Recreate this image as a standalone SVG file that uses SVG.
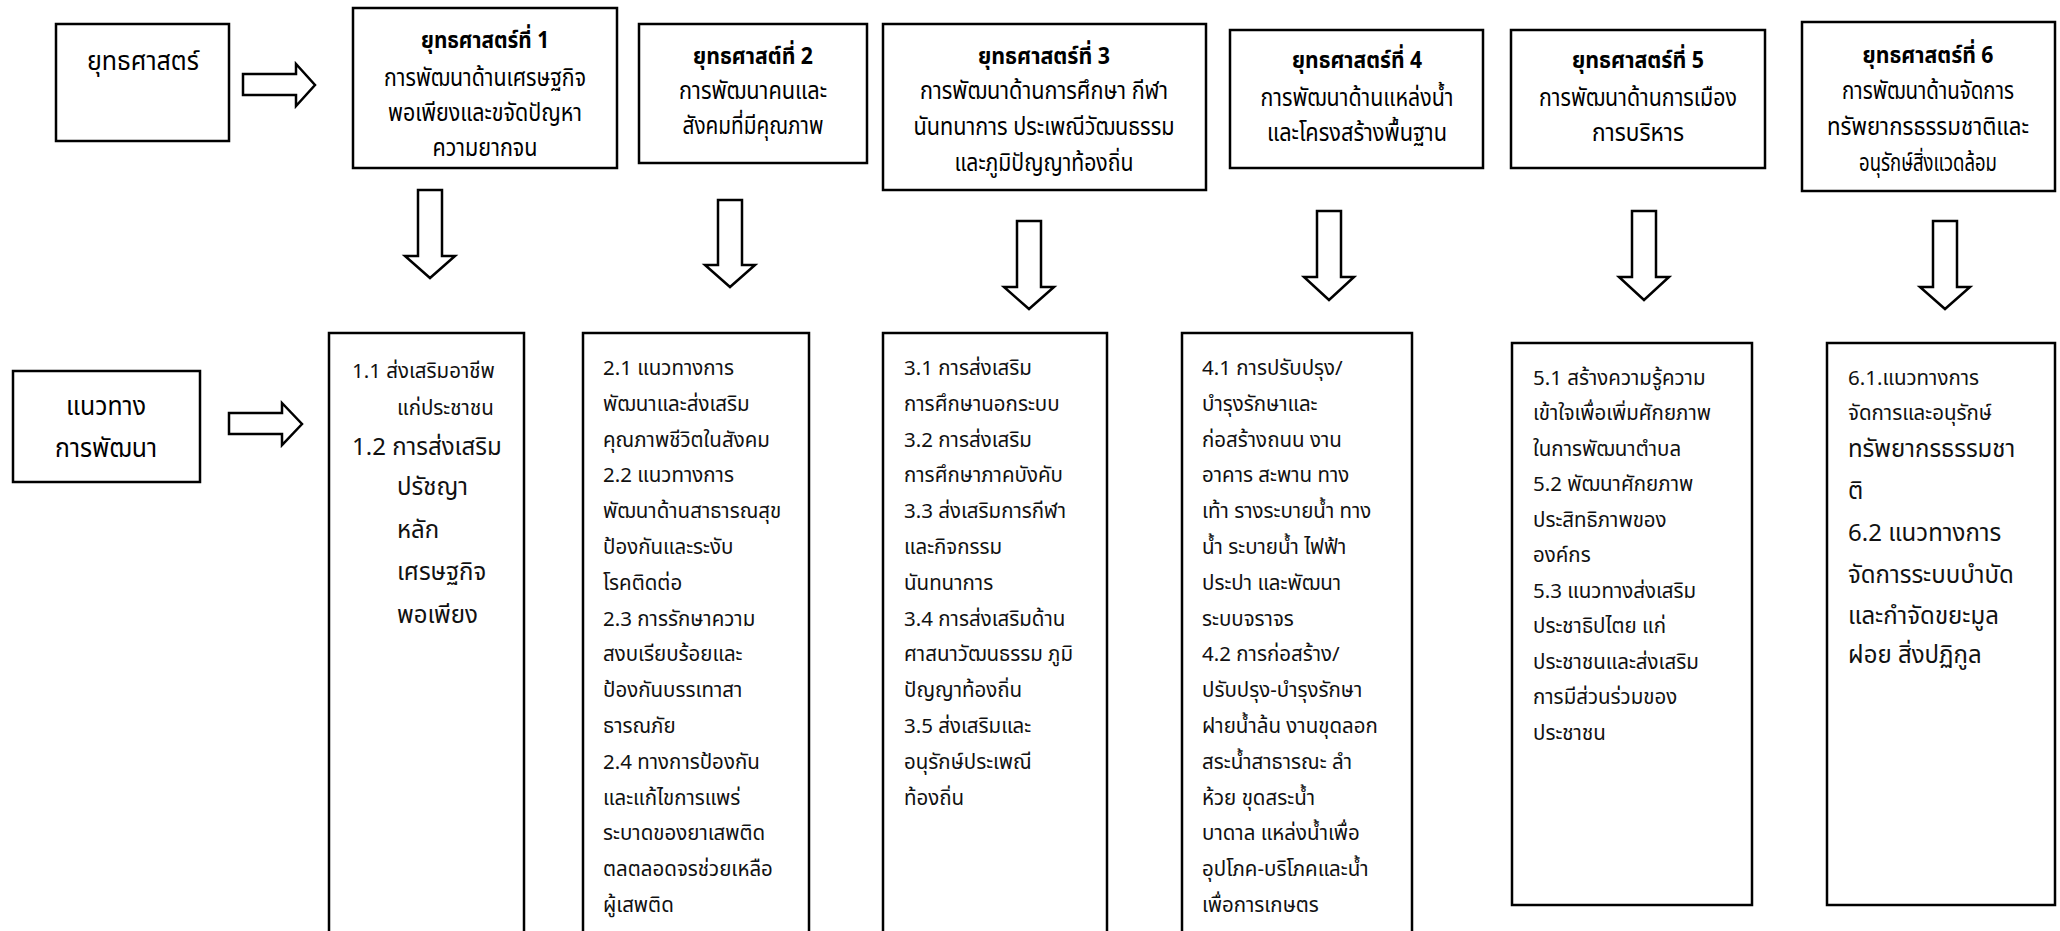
<svg xmlns="http://www.w3.org/2000/svg" width="2060" height="931" viewBox="0 0 2060 931">
<style>
  .box{fill:#fff;stroke:#000;stroke-width:2.5}
  .arr{fill:#fff;stroke:#000;stroke-width:2.5;stroke-linejoin:miter}
  .t{font-family:"Noto Sans Thai","Noto Sans",sans-serif;fill:#000;text-anchor:middle;font-size:24px}
  .tb{font-weight:bold;font-size:23px}
  .b{font-family:"Noto Sans Thai","Noto Sans",sans-serif;fill:#111;font-size:20.5px}
  .bl{font-size:24px}
</style>
<rect width="2060" height="931" fill="#fff"/>

<g id="connectors">
  <path class="arr" d="M243,74 H296 V64 L315,85 L296,106 V95 H243 Z"/>
  <path class="arr" d="M229,413 H282 V403 L302,424 L282,445 V434 H229 Z"/>
  <path class="arr" d="M418,190 H442 V256 H455 L430,278 L405,256 H418 Z"/>
  <path class="arr" d="M718,200 H742 V265 H755 L730,287 L705,265 H718 Z"/>
  <path class="arr" d="M1017,221 H1041 V287 H1054 L1029,309 L1004,287 H1017 Z"/>
  <path class="arr" d="M1317,211 H1341 V277 H1354 L1329,300 L1304,277 H1317 Z"/>
  <path class="arr" d="M1632,211 H1656 V277 H1669 L1644,300 L1619,277 H1632 Z"/>
  <path class="arr" d="M1933,221 H1957 V287 H1970 L1945,309 L1920,287 H1933 Z"/>
</g>

<g id="strategy-label">
  <rect class="box" x="56" y="24" width="173" height="117"/>
  <text class="t" x="143" y="70" style="font-size:27px" textLength="112" lengthAdjust="spacingAndGlyphs">ยุทธศาสตร์</text>
</g>

<g id="strategy-1">
  <rect class="box" x="353" y="8" width="264" height="160"/>
  <text class="t tb" x="485" y="48" textLength="128" lengthAdjust="spacingAndGlyphs">ยุทธศาสตร์ที่ 1</text>
  <text class="t" x="485" y="86" textLength="202" lengthAdjust="spacingAndGlyphs">การพัฒนาด้านเศรษฐกิจ</text>
  <text class="t" x="485" y="121" textLength="194" lengthAdjust="spacingAndGlyphs">พอเพียงและขจัดปัญหา</text>
  <text class="t" x="485" y="156" textLength="105" lengthAdjust="spacingAndGlyphs">ความยากจน</text>
</g>

<g id="strategy-2">
  <rect class="box" x="639" y="24" width="228" height="139"/>
  <text class="t tb" x="753" y="64" textLength="120" lengthAdjust="spacingAndGlyphs">ยุทธศาสต์ที่ 2</text>
  <text class="t" x="753" y="99" textLength="148" lengthAdjust="spacingAndGlyphs">การพัฒนาคนและ</text>
  <text class="t" x="753" y="134" textLength="141" lengthAdjust="spacingAndGlyphs">สังคมที่มีคุณภาพ</text>
</g>

<g id="strategy-3">
  <rect class="box" x="883" y="24" width="323" height="166"/>
  <text class="t tb" x="1044" y="64" textLength="132" lengthAdjust="spacingAndGlyphs">ยุทธศาสตร์ที่ 3</text>
  <text class="t" x="1044" y="99" textLength="248" lengthAdjust="spacingAndGlyphs">การพัฒนาด้านการศึกษา กีฬา</text>
  <text class="t" x="1044" y="135" textLength="261" lengthAdjust="spacingAndGlyphs">นันทนาการ ประเพณีวัฒนธรรม</text>
  <text class="t" x="1044" y="171" textLength="179" lengthAdjust="spacingAndGlyphs">และภูมิปัญญาท้องถิ่น</text>
</g>

<g id="strategy-4">
  <rect class="box" x="1230" y="30" width="253" height="138"/>
  <text class="t tb" x="1357" y="68" textLength="130" lengthAdjust="spacingAndGlyphs">ยุทธศาสตร์ที่ 4</text>
  <text class="t" x="1357" y="106" textLength="193" lengthAdjust="spacingAndGlyphs">การพัฒนาด้านแหล่งน้ำ</text>
  <text class="t" x="1357" y="141" textLength="180" lengthAdjust="spacingAndGlyphs">และโครงสร้างพื้นฐาน</text>
</g>

<g id="strategy-5">
  <rect class="box" x="1511" y="30" width="254" height="138"/>
  <text class="t tb" x="1638" y="68" textLength="132" lengthAdjust="spacingAndGlyphs">ยุทธศาสตร์ที่ 5</text>
  <text class="t" x="1638" y="106" textLength="198" lengthAdjust="spacingAndGlyphs">การพัฒนาด้านการเมือง</text>
  <text class="t" x="1638" y="141" textLength="92" lengthAdjust="spacingAndGlyphs">การบริหาร</text>
</g>

<g id="strategy-6">
  <rect class="box" x="1802" y="22" width="253" height="169"/>
  <text class="t tb" x="1928" y="63" textLength="131" lengthAdjust="spacingAndGlyphs">ยุทธศาสตร์ที่ 6</text>
  <text class="t" x="1928" y="99" textLength="172" lengthAdjust="spacingAndGlyphs">การพัฒนาด้านจัดการ</text>
  <text class="t" x="1928" y="135" textLength="202" lengthAdjust="spacingAndGlyphs">ทรัพยากรธรรมชาติและ</text>
  <text class="t" x="1928" y="171" textLength="138" lengthAdjust="spacingAndGlyphs">อนุรักษ์สิ่งแวดล้อม</text>
</g>

<g id="guideline-label">
  <rect class="box" x="13" y="371" width="187" height="111"/>
  <text class="t" x="106" y="415" style="font-size:27px" textLength="80" lengthAdjust="spacingAndGlyphs">แนวทาง</text>
  <text class="t" x="106" y="457" style="font-size:27px" textLength="102" lengthAdjust="spacingAndGlyphs">การพัฒนา</text>
</g>

<g id="guideline-1">
  <rect class="box" x="329" y="333" width="195" height="620"/>
  <text class="b" x="352" y="378">1.1 ส่งเสริมอาชีพ</text>
  <text class="b" x="397" y="415">แก่ประชาชน</text>
  <text class="b bl" x="352" y="455">1.2 การส่งเสริม</text>
  <text class="b bl" x="397" y="495">ปรัชญา</text>
  <text class="b bl" x="397" y="538">หลัก</text>
  <text class="b bl" x="397" y="580">เศรษฐกิจ</text>
  <text class="b bl" x="397" y="623">พอเพียง</text>
</g>

<g id="guideline-2">
  <rect class="box" x="583" y="333" width="226" height="620"/>
  <text class="b" x="603" y="375">2.1 แนวทางการ</text>
  <text class="b" x="603" y="411">พัฒนาและส่งเสริม</text>
  <text class="b" x="603" y="447">คุณภาพชีวิตในสังคม</text>
  <text class="b" x="603" y="482">2.2 แนวทางการ</text>
  <text class="b" x="603" y="518">พัฒนาด้านสาธารณสุข</text>
  <text class="b" x="603" y="554">ป้องกันและระงับ</text>
  <text class="b" x="603" y="590">โรคติดต่อ</text>
  <text class="b" x="603" y="626">2.3 การรักษาความ</text>
  <text class="b" x="603" y="661">สงบเรียบร้อยและ</text>
  <text class="b" x="603" y="697">ป้องกันบรรเทาสา</text>
  <text class="b" x="603" y="733">ธารณภัย</text>
  <text class="b" x="603" y="769">2.4 ทางการป้องกัน</text>
  <text class="b" x="603" y="805">และแก้ไขการแพร่</text>
  <text class="b" x="603" y="840">ระบาดของยาเสพติด</text>
  <text class="b" x="603" y="876">ตลตลอดจรช่วยเหลือ</text>
  <text class="b" x="603" y="912">ผู้เสพติด</text>
</g>

<g id="guideline-3">
  <rect class="box" x="883" y="333" width="224" height="620"/>
  <text class="b" x="904" y="375">3.1 การส่งเสริม</text>
  <text class="b" x="904" y="411">การศึกษานอกระบบ</text>
  <text class="b" x="904" y="447">3.2 การส่งเสริม</text>
  <text class="b" x="904" y="482">การศึกษาภาคบังคับ</text>
  <text class="b" x="904" y="518">3.3 ส่งเสริมการกีฬา</text>
  <text class="b" x="904" y="554">และกิจกรรม</text>
  <text class="b" x="904" y="590">นันทนาการ</text>
  <text class="b" x="904" y="626">3.4 การส่งเสริมด้าน</text>
  <text class="b" x="904" y="661">ศาสนาวัฒนธรรม ภูมิ</text>
  <text class="b" x="904" y="697">ปัญญาท้องถิ่น</text>
  <text class="b" x="904" y="733">3.5 ส่งเสริมและ</text>
  <text class="b" x="904" y="769">อนุรักษ์ประเพณี</text>
  <text class="b" x="904" y="805">ท้องถิ่น</text>
</g>

<g id="guideline-4">
  <rect class="box" x="1182" y="333" width="230" height="620"/>
  <text class="b" x="1202" y="375">4.1 การปรับปรุง/</text>
  <text class="b" x="1202" y="411">บำรุงรักษาและ</text>
  <text class="b" x="1202" y="447">ก่อสร้างถนน งาน</text>
  <text class="b" x="1202" y="482">อาคาร สะพาน ทาง</text>
  <text class="b" x="1202" y="518">เท้า รางระบายน้ำ ทาง</text>
  <text class="b" x="1202" y="554">น้ำ ระบายน้ำ ไฟฟ้า</text>
  <text class="b" x="1202" y="590">ประปา และพัฒนา</text>
  <text class="b" x="1202" y="626">ระบบจราจร</text>
  <text class="b" x="1202" y="661">4.2 การก่อสร้าง/</text>
  <text class="b" x="1202" y="697">ปรับปรุง-บำรุงรักษา</text>
  <text class="b" x="1202" y="733">ฝายน้ำล้น งานขุดลอก</text>
  <text class="b" x="1202" y="769">สระน้ำสาธารณะ ลำ</text>
  <text class="b" x="1202" y="805">ห้วย ขุดสระน้ำ</text>
  <text class="b" x="1202" y="840">บาดาล แหล่งน้ำเพื่อ</text>
  <text class="b" x="1202" y="876">อุปโภค-บริโภคและน้ำ</text>
  <text class="b" x="1202" y="912">เพื่อการเกษตร</text>
</g>

<g id="guideline-5">
  <rect class="box" x="1512" y="343" width="240" height="562"/>
  <text class="b" x="1533" y="385">5.1 สร้างความรู้ความ</text>
  <text class="b" x="1533" y="420">เข้าใจเพื่อเพิ่มศักยภาพ</text>
  <text class="b" x="1533" y="456">ในการพัฒนาตำบล</text>
  <text class="b" x="1533" y="491">5.2 พัฒนาศักยภาพ</text>
  <text class="b" x="1533" y="527">ประสิทธิภาพของ</text>
  <text class="b" x="1533" y="562">องค์กร</text>
  <text class="b" x="1533" y="598">5.3 แนวทางส่งเสริม</text>
  <text class="b" x="1533" y="633">ประชาธิปไตย แก่</text>
  <text class="b" x="1533" y="669">ประชาชนและส่งเสริม</text>
  <text class="b" x="1533" y="704">การมีส่วนร่วมของ</text>
  <text class="b" x="1533" y="740">ประชาชน</text>
</g>

<g id="guideline-6">
  <rect class="box" x="1827" y="343" width="228" height="562"/>
  <text class="b" x="1848" y="385">6.1.แนวทางการ</text>
  <text class="b" x="1848" y="420">จัดการและอนุรักษ์</text>
  <text class="b bl" x="1848" y="457">ทรัพยากรธรรมชา</text>
  <text class="b bl" x="1848" y="499">ติ</text>
  <text class="b bl" x="1848" y="541">6.2 แนวทางการ</text>
  <text class="b bl" x="1848" y="583">จัดการระบบบำบัด</text>
  <text class="b bl" x="1848" y="624">และกำจัดขยะมูล</text>
  <text class="b bl" x="1848" y="663">ฝอย สิ่งปฏิกูล</text>
</g>
</svg>
